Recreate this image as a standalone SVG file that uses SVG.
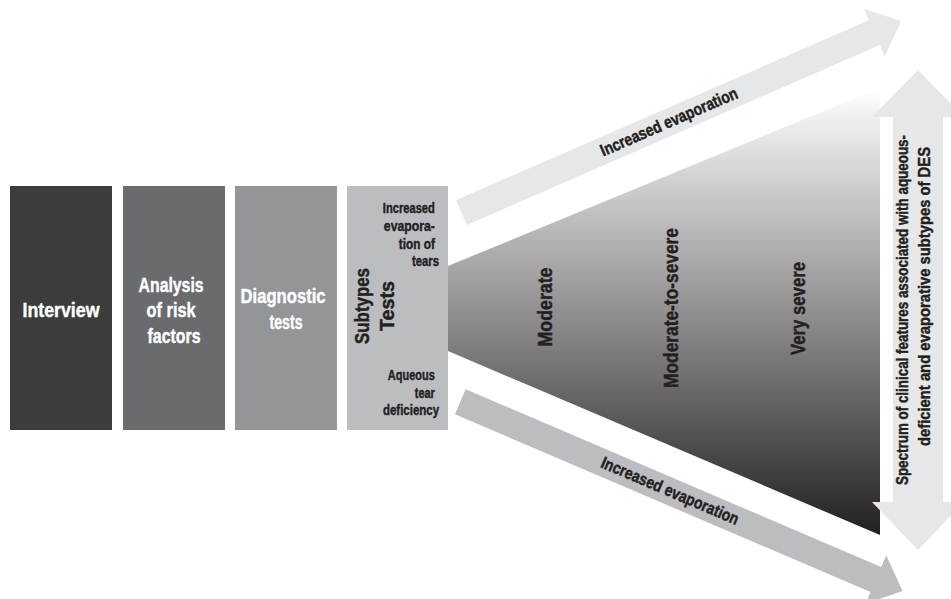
<svg xmlns="http://www.w3.org/2000/svg" width="951" height="599" viewBox="0 0 951 599">
  <style>
    .t { font-family: "Liberation Sans", Arial, sans-serif; font-weight: bold; stroke-width: 0.45px; stroke-linejoin: round; }
    .w { fill: #ffffff; stroke: #ffffff; }
    .d { fill: #231f20; stroke: #231f20; }
    .big { font-size: 21px; }
    .mid { font-size: 20px; }
    .sm { font-size: 15px; }
    .arr { font-size: 17px; }
    .light { fill: #e6e7e8; }
    .grey { fill: #bcbdc0; }
  </style>
  <defs>
    <linearGradient id="grad" gradientUnits="userSpaceOnUse" x1="0" y1="88" x2="0" y2="535">
      <stop offset="0" stop-color="#ffffff"/>
      <stop offset="1" stop-color="#231f20"/>
    </linearGradient>
  </defs>
  <rect width="951" height="599" fill="#ffffff"/>

  <g id="spectrum">
    <polygon points="448,266 880,88 880,535 448,351" fill="url(#grad)"/>
    <text class="t d big" transform="translate(552,307) rotate(-90)" text-anchor="middle" textLength="79" lengthAdjust="spacingAndGlyphs">Moderate</text>
    <text class="t d big" transform="translate(678,308) rotate(-90)" text-anchor="middle" textLength="160" lengthAdjust="spacingAndGlyphs">Moderate-to-severe</text>
    <text class="t d big" transform="translate(805,308.5) rotate(-90)" text-anchor="middle" textLength="93" lengthAdjust="spacingAndGlyphs">Very severe</text>
  </g>

  <g id="interview">
    <rect x="10" y="186" width="102" height="244" fill="#3c3c3c"/>
    <text class="t w big" x="61" y="317" text-anchor="middle" textLength="77" lengthAdjust="spacingAndGlyphs">Interview</text>
  </g>

  <g id="risk-factors">
    <rect x="123" y="186" width="102" height="244" fill="#6a6b6e"/>
    <text class="t w big" text-anchor="middle">
      <tspan x="174" y="292" textLength="65" lengthAdjust="spacingAndGlyphs">Analysis</tspan>
      <tspan x="174" y="317" textLength="49" lengthAdjust="spacingAndGlyphs">of risk</tspan>
      <tspan x="174" y="343" textLength="53" lengthAdjust="spacingAndGlyphs">factors</tspan>
    </text>
  </g>

  <g id="diagnostic-tests">
    <rect x="235" y="186" width="102" height="244" fill="#939598"/>
    <text class="t w big" text-anchor="middle">
      <tspan x="286" y="303" textLength="85" lengthAdjust="spacingAndGlyphs">Diagnostic</tspan>
      <tspan x="286" y="329" textLength="33" lengthAdjust="spacingAndGlyphs">tests</tspan>
    </text>
  </g>

  <g id="subtypes-tests">
    <rect x="347" y="186" width="101" height="244" fill="#bcbdc0"/>
    <text class="t d mid" transform="translate(369,306) rotate(-90)" text-anchor="middle" textLength="76" lengthAdjust="spacingAndGlyphs">Subtypes</text>
    <text class="t d mid" transform="translate(394,306) rotate(-90)" text-anchor="middle" textLength="50" lengthAdjust="spacingAndGlyphs">Tests</text>
    <text class="t d sm" text-anchor="end">
      <tspan x="439" y="213" textLength="52" lengthAdjust="spacingAndGlyphs">Increased</tspan>
      <tspan x="439" y="231" textLength="51" lengthAdjust="spacingAndGlyphs">evapora-</tspan>
      <tspan x="439" y="248.5" textLength="36" lengthAdjust="spacingAndGlyphs">tion of</tspan>
      <tspan x="439" y="266" textLength="27" lengthAdjust="spacingAndGlyphs">tears</tspan>
    </text>
    <text class="t d sm" text-anchor="end">
      <tspan x="439" y="380" textLength="47" lengthAdjust="spacingAndGlyphs">Aqueous</tspan>
      <tspan x="439" y="397.5" textLength="20" lengthAdjust="spacingAndGlyphs">tear</tspan>
      <tspan x="439" y="415" textLength="56" lengthAdjust="spacingAndGlyphs">deficiency</tspan>
    </text>
  </g>

  <g id="connectors">
    <g transform="translate(461.5,212.5) rotate(-23.54)">
      <path class="light" d="M0,-13.6 L450.4,-13.6 L450.4,-26 L479.4,0 L450.4,26 L450.4,13.6 L0,13.6 Z"/>
    </g>
    <text class="t d arr" transform="translate(669,122) rotate(-23.54)" x="0" y="5.5" text-anchor="middle" textLength="148" lengthAdjust="spacingAndGlyphs">Increased evaporation</text>

    <g transform="translate(460.3,401.75) rotate(23.16)">
      <path class="grey" d="M0,-13.6 L452,-13.6 L452,-26.4 L481,0 L452,26.4 L452,13.6 L0,13.6 Z"/>
    </g>
    <text class="t d arr" transform="translate(670,491) rotate(23.16)" x="0" y="5.5" text-anchor="middle" textLength="148" lengthAdjust="spacingAndGlyphs">Increased evaporation</text>

    <polygon class="light" points="918,70 964,117 943,117 943,502 964,502 918,550 872,502 893,502 893,117 872,117"/>
    <text class="t d arr" transform="translate(907.5,310) rotate(-90)" text-anchor="middle" textLength="350" lengthAdjust="spacingAndGlyphs">Spectrum of clinical features associated with aqueous-</text>
    <text class="t d arr" transform="translate(929.5,296.5) rotate(-90)" text-anchor="middle" textLength="299" lengthAdjust="spacingAndGlyphs">deficient and evaporative subtypes of DES</text>
  </g>
</svg>
